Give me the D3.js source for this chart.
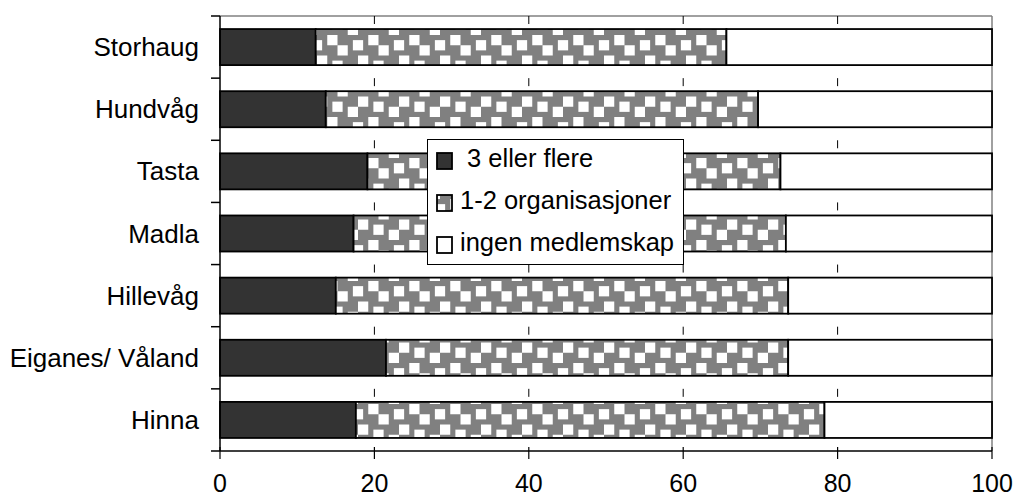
<!DOCTYPE html>
<html>
<head>
<meta charset="utf-8">
<script src="https://cdn.jsdelivr.net/npm/d3@7/dist/d3.min.js"></script>
<style>
  html, body { margin: 0; padding: 0; background: #fff; }
  svg { display: block; }
  text { font-family: "Liberation Sans", Arial, sans-serif; fill: #000; }
</style>
</head>
<body>
<svg id="chart" width="1016" height="497"></svg>
<script>
// ---- data ----
const categories = ["Storhaug", "Hundvåg", "Tasta", "Madla", "Hillevåg", "Eiganes/ Våland", "Hinna"];
const seriesNames = [" 3 eller flere", "1-2 organisasjoner", "ingen medlemskap"];
const treEllerFlere = [12.4, 13.7, 19.1, 17.3, 15.0, 21.5, 17.6];
const enToOrg      = [53.2, 56.0, 53.5, 56.0, 58.6, 52.1, 60.7];
const ingen        = [34.4, 30.3, 27.4, 26.7, 26.4, 26.4, 21.7];
const xTicks = [0, 20, 40, 60, 80, 100];

// ---- layout ----
const svg = d3.select("#chart");
const pL = 220, pR = 992, pT = 16, pB = 451;
const x = d3.scaleLinear().domain([0, 100]).range([pL, pR]);
const y = d3.scaleBand().domain(categories).range([pT, pB]).paddingInner(0.42).paddingOuter(0.21);

// pattern
const defs = svg.append("defs");
const u = 41 / 8;
const pat = defs.append("pattern").attr("id", "chk")
  .attr("patternUnits", "userSpaceOnUse")
  .attr("x", 440).attr("y", 404).attr("width", 41).attr("height", 41);
pat.append("rect").attr("width", 41).attr("height", 41).attr("fill", "#808080");
const blocks = [[2,0],[7,1],[4,2],[0,4],[3,5],[6,6]];
blocks.forEach(([bx, by]) => {
  [[0,0],[-8,0],[0,-8],[-8,-8]].forEach(([dx, dy]) => {
    pat.append("rect").attr("x", (bx + dx) * u).attr("y", (by + dy) * u)
      .attr("width", 2 * u).attr("height", 2 * u).attr("fill", "#fff");
  });
});
const fills = ["#333333", "url(#chk)", "#ffffff"];

// top/right border
svg.append("line").attr("x1", pL).attr("x2", pR).attr("y1", pT).attr("y2", pT)
  .attr("stroke", "#808080").attr("stroke-width", 1.5);
svg.append("line").attr("x1", pR).attr("x2", pR).attr("y1", pT).attr("y2", pB)
  .attr("stroke", "#808080").attr("stroke-width", 1.5);

// gridlines
svg.append("g").selectAll("line").data(xTicks.filter(d => d > 0 && d < 100)).join("line")
  .attr("x1", d => x(d)).attr("x2", d => x(d)).attr("y1", pT).attr("y2", pB)
  .attr("stroke", "#000").attr("stroke-width", 1).attr("stroke-dasharray", "8,54.14");

// bars
const series = [treEllerFlere, enToOrg, ingen];
const stackData = categories.map((c, i) => {
  let acc = 0;
  return series.map((s, k) => { const x0 = acc; acc += s[i]; return { cat: c, k, x0, x1: acc }; });
});
svg.append("g").selectAll("g").data(stackData).join("g")
  .selectAll("rect").data(d => d).join("rect")
  .attr("x", d => x(d.x0)).attr("width", d => x(d.x1) - x(d.x0))
  .attr("y", d => y(d.cat)).attr("height", y.bandwidth())
  .attr("fill", d => fills[d.k]).attr("stroke", "#000").attr("stroke-width", 1.8);

// y axis
const yAxis = svg.append("g");
yAxis.append("line").attr("x1", pL).attr("x2", pL).attr("y1", pT).attr("y2", pB)
  .attr("stroke", "#000").attr("stroke-width", 1.5);
const step = y.step();
yAxis.selectAll(".yt").data(d3.range(categories.length + 1)).join("line")
  .attr("x1", pL - 9).attr("x2", pL).attr("y1", i => pT + i * step).attr("y2", i => pT + i * step)
  .attr("stroke", "#000").attr("stroke-width", 1.5);
yAxis.selectAll("text").data(categories).join("text")
  .attr("x", 199).attr("y", d => y(d) + y.bandwidth() / 2).attr("dy", "0.35em")
  .attr("text-anchor", "end").attr("font-size", 26).text(d => d);

// x axis
const xAxis = svg.append("g");
xAxis.append("line").attr("x1", pL).attr("x2", pR).attr("y1", pB).attr("y2", pB)
  .attr("stroke", "#000").attr("stroke-width", 1.5);
xAxis.selectAll(".xt").data(xTicks).join("line")
  .attr("x1", d => x(d)).attr("x2", d => x(d)).attr("y1", pB - 4).attr("y2", pB + 8)
  .attr("stroke", "#000").attr("stroke-width", 1.2);
xAxis.selectAll("text").data(xTicks).join("text")
  .attr("x", d => x(d)).attr("y", 492).attr("text-anchor", "middle").attr("font-size", 25)
  .text(d => d);

// legend
const lg = svg.append("g");
lg.append("rect").attr("x", 427.5).attr("y", 139.5).attr("width", 256).attr("height", 125)
  .attr("fill", "#fff").attr("stroke", "#000").attr("stroke-width", 1);
seriesNames.forEach((n, i) => {
  const yy = 153 + i * 42;
  lg.append("rect").attr("x", 437).attr("y", yy).attr("width", 15).attr("height", 16)
    .attr("fill", fills[i]).attr("stroke", "#000").attr("stroke-width", 1.8);
  lg.append("text").attr("x", 460).attr("y", yy + 14).attr("font-size", 25.5)
    .style("white-space", "pre").text(n);
});
</script>
</body>
</html>
